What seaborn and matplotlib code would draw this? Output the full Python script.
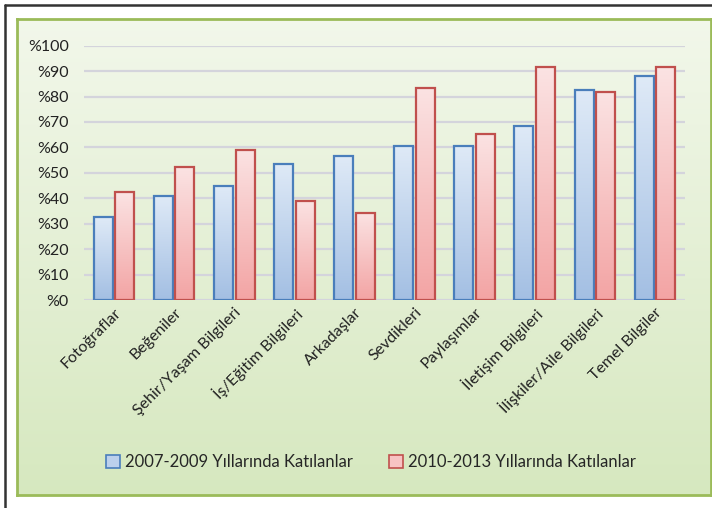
import numpy as np
import pandas as pd
import matplotlib
matplotlib.use("Agg")
import matplotlib.pyplot as plt
from matplotlib.patches import Patch
from matplotlib.lines import Line2D
import seaborn as sns

categories = ['Fotoğraflar', 'Beğeniler', 'Şehir/Yaşam Bilgileri', 'İş/Eğitim Bilgileri',
              'Arkadaşlar', 'Sevdikleri', 'Paylaşımlar', 'İletişim Bilgileri',
              'İlişkiler/Aile Bilgileri', 'Temel Bilgiler']
vals_2007 = [32.5, 41, 45, 53.5, 56.6, 60.6, 60.6, 68.5, 82.5, 88]
vals_2010 = [42.3, 52.2, 59, 39.1, 34.3, 83.5, 65.3, 91.5, 81.9, 91.5]
series = ['2007-2009 Yıllarında Katılanlar', '2010-2013 Yıllarında Katılanlar']
y_ticks = list(range(0, 101, 10))

df = pd.DataFrame({
    'kategori': categories * 2,
    'oran': vals_2007 + vals_2010,
    'grup': [series[0]] * len(categories) + [series[1]] * len(categories),
})

sns.set_style('white')
plt.rcParams['font.family'] = ['Lato', 'DejaVu Sans']

fig = plt.figure(figsize=(7.12, 5.08), dpi=100)

# green gradient panel behind the chart
bg = fig.add_axes([17/712, 1 - 495/508, 694/712, 476/508], zorder=0)
grad = np.linspace(0, 1, 256).reshape(-1, 1)
top_c = np.array([0.95, 0.97, 0.92])
bot_c = np.array([0.84, 0.91, 0.75])
bg.imshow(top_c + grad[..., None] * (bot_c - top_c), aspect='auto', extent=[0, 1, 0, 1])
bg.set_xticks([]); bg.set_yticks([])
for s in bg.spines.values():
    s.set_color('#9bbb59'); s.set_linewidth(2)

# outer dark frame (top + left)
fig.add_artist(Line2D([5/712, 5/712], [0, 1 - 5/508], color='#333333', lw=1.8))
fig.add_artist(Line2D([5/712, 1], [1 - 5/508, 1 - 5/508], color='#333333', lw=1.8))

ax = fig.add_axes([84/712, 1 - 300/508, 601/712, 254.3/508], zorder=1)
ax.set_facecolor('none')

palette = {series[0]: '#4f81bd', series[1]: '#c0504d'}
sns.barplot(data=df, x='kategori', y='oran', hue='grup', order=categories, hue_order=series,
            palette=palette, width=0.72, gap=0.12, legend=False, ax=ax,
            edgecolor='none', saturation=1)

grads = {series[0]: ('#dfeaf7', '#a3bfe3', '#4a7ebb'),
         series[1]: ('#fbe3e3', '#f3a4a4', '#c0504d')}
n = len(categories)
for i, p in enumerate(ax.patches):
    s = series[0] if i < n else series[1]
    c_top, c_bot, c_edge = grads[s]
    x0, y0 = p.get_x(), p.get_y()
    w, h = p.get_width(), p.get_height()
    ct = np.array(matplotlib.colors.to_rgb(c_top))
    cb = np.array(matplotlib.colors.to_rgb(c_bot))
    img = ct + grad[..., None] * (cb - ct)
    im = ax.imshow(img, extent=[x0, x0 + w, y0, y0 + h], aspect='auto', zorder=2.5)
    im.set_clip_path(p)
    p.set_facecolor('none')
    p.set_edgecolor(c_edge)
    p.set_linewidth(1.6)
    p.set_zorder(3)

ax.set_xlim(-0.5, n - 0.5)
ax.set_ylim(0, 100)
ax.set_yticks(y_ticks)
ax.set_yticklabels(['%' + str(t) for t in y_ticks])
ax.yaxis.grid(True, color='#d4d4dc', lw=1.6)
ax.set_axisbelow(True)
for s in ax.spines.values():
    s.set_visible(False)
ax.tick_params(axis='both', length=0, labelsize=11.5, colors='#222222')
ax.tick_params(axis='y', pad=11)
ax.set_xlabel('')
ax.set_ylabel('')
plt.setp(ax.get_xticklabels(), rotation=45, ha='right', rotation_mode='anchor')
ax.tick_params(axis='x', pad=4)

handles = [Patch(facecolor='#bcd0ec', edgecolor='#4a7ebb', lw=1.2),
           Patch(facecolor='#f7c3c3', edgecolor='#c0504d', lw=1.2)]
fig.legend(handles, series, loc='center', bbox_to_anchor=(371/712, 1 - 462/508), ncol=2,
           frameon=False, fontsize=12, handlelength=0.8, handleheight=0.8,
           handletextpad=0.3, columnspacing=2.2)

fig.savefig('out.png', dpi=100)
